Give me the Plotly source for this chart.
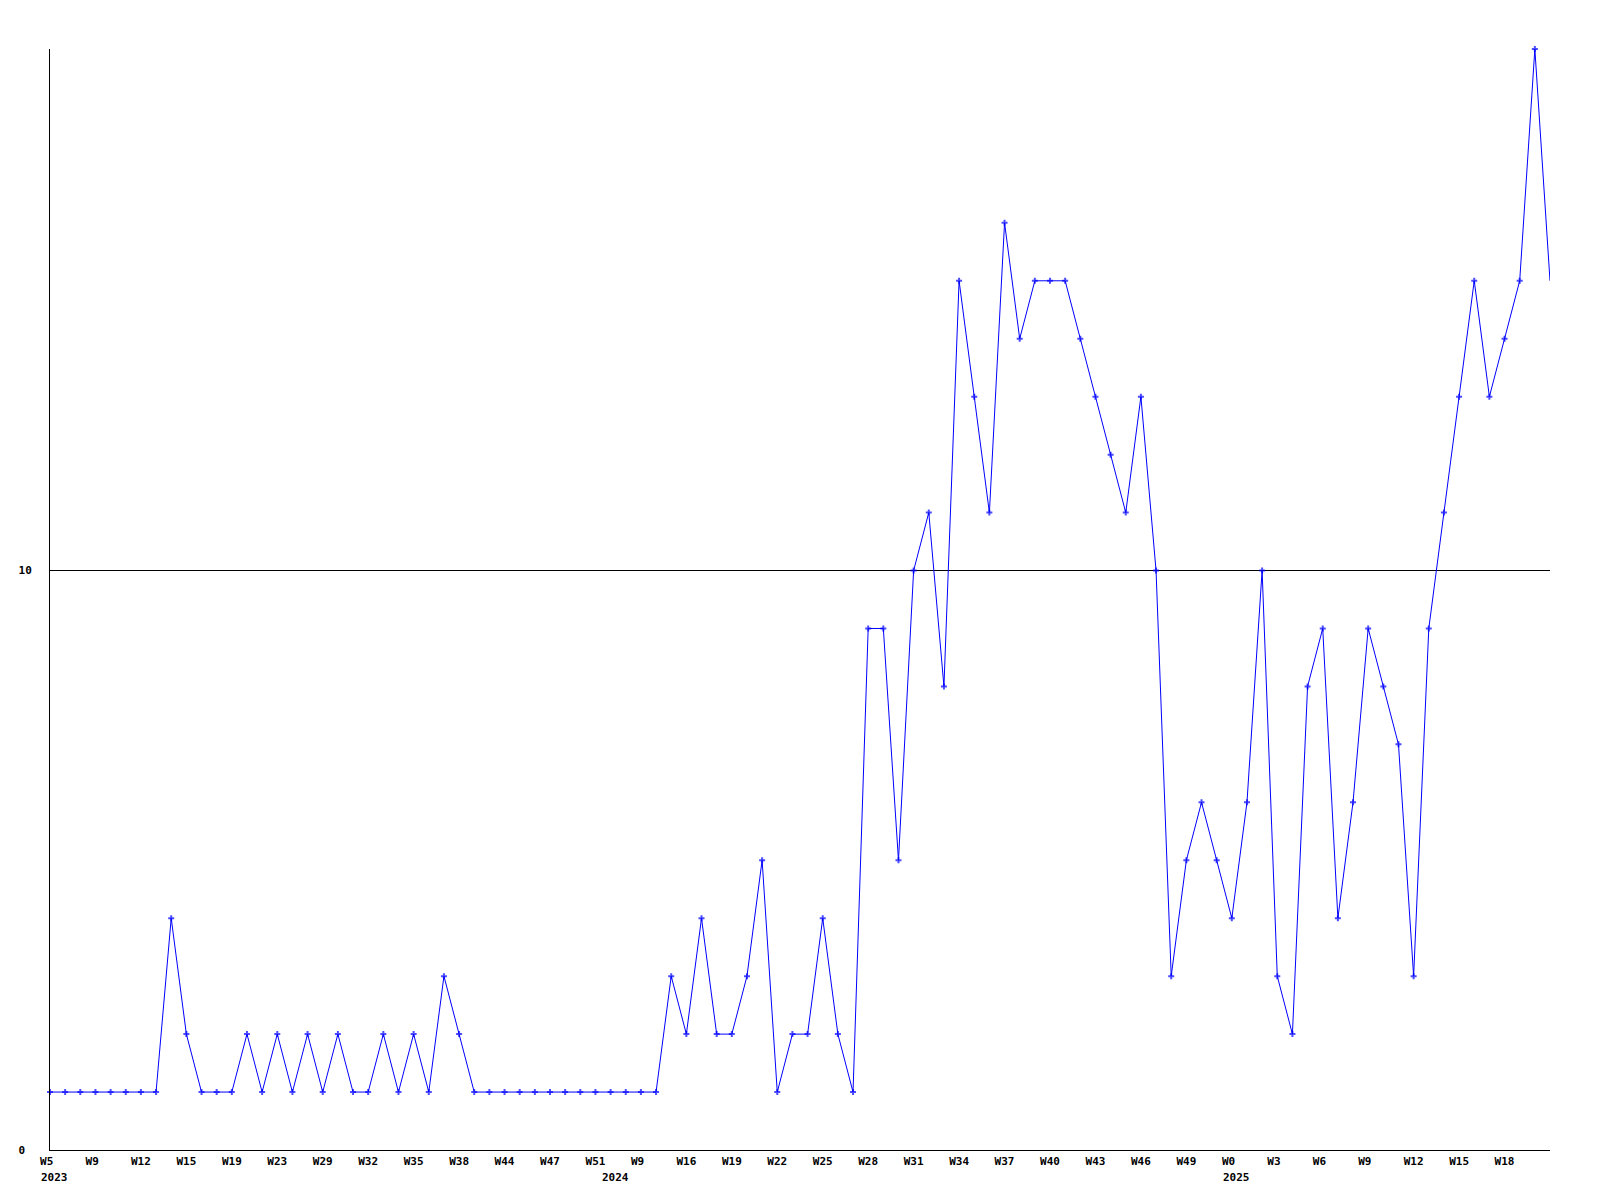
import plotly.graph_objects as go

# weekly counts, one per category position (100 weeks)
values = [1, 1, 1, 1, 1, 1, 1, 1, 4, 2,
          1, 1, 1, 2, 1, 2, 1, 2, 1, 2,
          1, 1, 2, 1, 2, 1, 3, 2, 1, 1,
          1, 1, 1, 1, 1, 1, 1, 1, 1, 1,
          1, 3, 2, 4, 2, 2, 3, 5, 1, 2,
          2, 4, 2, 1, 9, 9, 5, 10, 11, 8,
          15, 13, 11, 16, 14, 15, 15, 15, 14, 13,
          12, 11, 13, 10, 3, 5, 6, 5, 4, 6,
          10, 3, 2, 8, 9, 4, 6, 9, 8, 7,
          3, 9, 11, 13, 15, 13, 14, 15, 19, 15]

# labelled weeks (every third category)
tick_labels = ["W5", "W9", "W12", "W15", "W19", "W23", "W29", "W32", "W35", "W38",
               "W44", "W47", "W51", "W9", "W16", "W19", "W22", "W25", "W28", "W31",
               "W34", "W37", "W40", "W43", "W46", "W49", "W0", "W3", "W6", "W9",
               "W12", "W15", "W18"]
tick_step = 3

# year labels and the category where each year starts
year_labels = ["2023", "2024", "2025"]
year_pos = [0, 37, 78]

y_ticks = [0, 10]
y_ticktext = ["0", "10"]

n = len(values)
x = list(range(n))
tickvals = list(range(0, n, tick_step))[:len(tick_labels)]
NB = "\u00a0"
ticktext = [t + NB * (3 - len(t)) for t in tick_labels]
y_text = [t + NB * (2 - len(t)) for t in y_ticktext]

font = dict(family="DejaVu Sans Mono", size=11, color="black", weight="bold")

marker_sizes = [5] * (n - 1) + [0]

fig = go.Figure()
fig.add_trace(go.Scatter(
    x=x, y=values, mode="lines+markers",
    line=dict(color="#0000FF", width=1),
    marker=dict(symbol="cross", size=marker_sizes, color="#0000FF", line=dict(width=0)),
    cliponaxis=False, showlegend=False, hoverinfo="skip",
))

annotations = []
for lab, pos in zip(year_labels, year_pos):
    annotations.append(dict(
        x=pos, y=0, xref="x", yref="paper", text=lab, showarrow=False,
        xanchor="left", yanchor="top", xshift=-11, yshift=-19, font=font,
    ))

fig.update_layout(
    width=1600, height=1200,
    paper_bgcolor="white", plot_bgcolor="white",
    margin=dict(l=42, r=58, t=41, b=58, pad=0),
    font=font,
    xaxis=dict(
        range=[0, n - 1], tickmode="array", tickvals=tickvals, ticktext=ticktext,
        showgrid=False, zeroline=False, showline=True, linecolor="black", linewidth=1,
        ticks="", tickfont=font, ticklabelstandoff=1, automargin=False,
    ),
    yaxis=dict(
        range=[0, 19], tickmode="array", tickvals=y_ticks, ticktext=y_text,
        showgrid=True, gridcolor="black", gridwidth=1, zeroline=False,
        showline=True, linecolor="black", linewidth=1, ticks="", tickfont=font,
        ticklabelstandoff=15, automargin=False,
    ),
    annotations=annotations,
)

fig.write_html("out.html")
